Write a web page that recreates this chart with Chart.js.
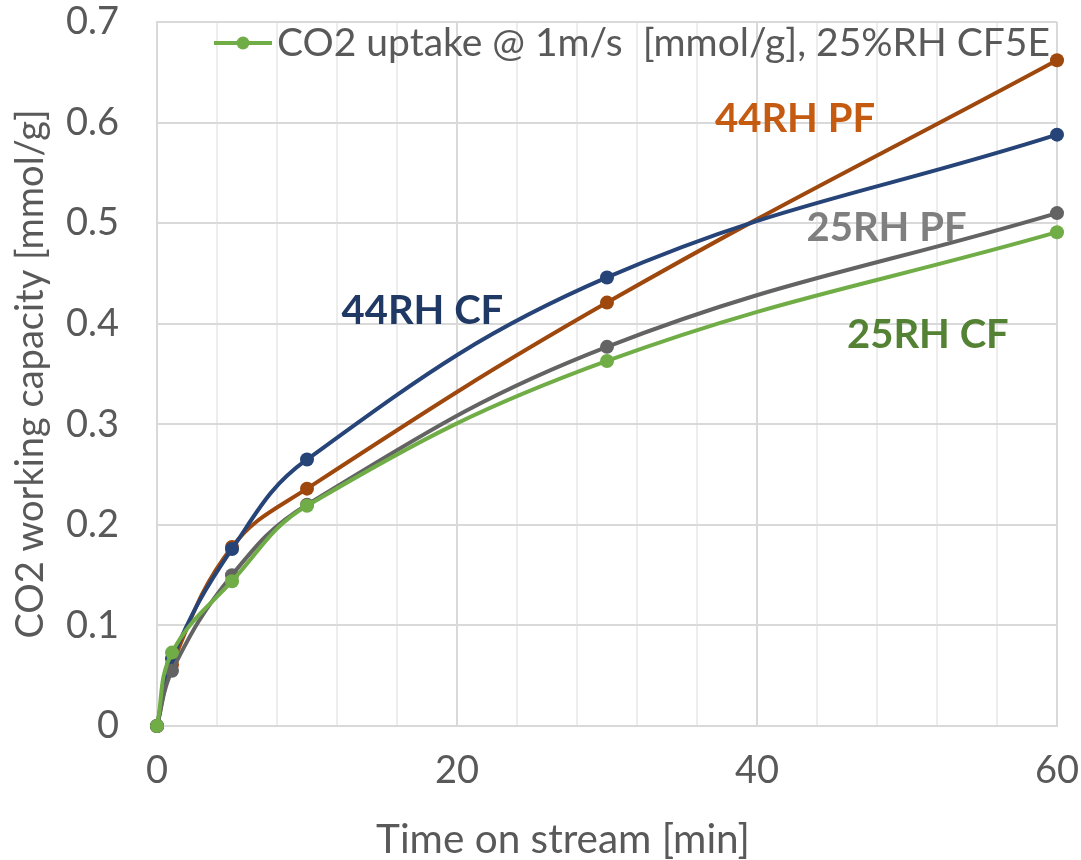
<!DOCTYPE html>
<html>
<head>
<meta charset="utf-8">
<script src="https://cdn.jsdelivr.net/npm/chart.js@4/dist/chart.umd.min.js"></script>
<style>
html,body{margin:0;padding:0;background:#fff;}
#wrap{width:1081px;height:860px;position:relative;}
</style>
</head>
<body>
<div id="wrap"><canvas id="c" width="1081" height="860"></canvas></div>
<script>
const times = [0, 1, 5, 10, 30, 60];
const cf44 = [0, 0.067, 0.176, 0.265, 0.446, 0.588];
const pf44 = [0, 0.061, 0.178, 0.236, 0.421, 0.662];
const pf25 = [0, 0.055, 0.150, 0.220, 0.377, 0.510];
const cf25 = [0, 0.073, 0.144, 0.219, 0.363, 0.491];
const seriesNames = ['CO2 uptake @ 1m/s  [mmol/g], 25%RH CF5E', '25RH PF', '44RH CF', '44RH PF'];
const xTicks = [0, 20, 40, 60];
const yTicks = [0, 0.1, 0.2, 0.3, 0.4, 0.5, 0.6, 0.7];
const labelTexts = ['44RH CF', '44RH PF', '25RH PF', '25RH CF'];
const labelX = [12.3, 37.2, 43.3, 46.0];
const labelY = [0.400, 0.591, 0.482, 0.376];
const xTitle = 'Time on stream [min]';
const yTitle = 'CO2 working capacity [mmol/g]';

const FONT = 'Lato, "Open Sans", sans-serif';
const lineColors = ['#70AD47', '#636363', '#264478', '#9E480E'];
const labelColors = ['#1F3864', '#C55A11', '#7F7F7F', '#548235'];

function pts(arr){ return times.map((t,i)=>({x:t,y:arr[i]})); }
function ds(label, arr, color){
  return {label, data: pts(arr), borderColor: color, backgroundColor: color,
    borderWidth: 4, pointRadius: 7, pointHoverRadius: 7, pointBorderWidth: 0,
    tension: 0.4, clip: false, fill: false};
}

const annot = {
  id: 'annot',
  afterDatasetsDraw(chart){
    const ctx = chart.ctx, xs = chart.scales.x, ys = chart.scales.y;
    ctx.save();
    ctx.font = 'bold 40px ' + FONT;
    ctx.textBaseline = 'alphabetic';
    ctx.textAlign = 'left';
    labelTexts.forEach((t,i)=>{
      ctx.fillStyle = labelColors[i];
      ctx.fillText(t, xs.getPixelForValue(labelX[i]), ys.getPixelForValue(labelY[i]));
    });
    // x-axis title
    ctx.fillStyle = '#595959';
    ctx.font = '40.5px ' + FONT;
    ctx.textAlign = 'center';
    ctx.fillText(xTitle, 563, 853);
    // legend (first series only)
    const ly = 43;
    ctx.strokeStyle = lineColors[0];
    ctx.lineWidth = 4;
    ctx.beginPath(); ctx.moveTo(214, ly); ctx.lineTo(272, ly); ctx.stroke();
    ctx.fillStyle = lineColors[0];
    ctx.beginPath(); ctx.arc(243, ly, 6.5, 0, Math.PI*2); ctx.fill();
    ctx.fillStyle = '#595959';
    ctx.font = '39px ' + FONT;
    ctx.textAlign = 'left';
    ctx.textBaseline = 'middle';
    ctx.fillText(seriesNames[0], 277, ly);
    ctx.restore();
  }
};

new Chart(document.getElementById('c'), {
  type: 'line',
  data: { datasets: [
    ds(seriesNames[0], cf25, lineColors[0]),
    ds(seriesNames[1], pf25, lineColors[1]),
    ds(seriesNames[2], cf44, lineColors[2]),
    ds(seriesNames[3], pf44, lineColors[3])
  ]},
  options: {
    responsive: false, animation: false,
    layout: { padding: { top: 22, right: 24, left: 0, bottom: 0 } },
    plugins: { legend: { display: false }, tooltip: { enabled: false } },
    scales: {
      x: {
        type: 'linear', min: 0, max: 60,
        afterFit(s){ s.height = 134; s.paddingLeft = 0; s.paddingRight = 0; },
        ticks: { stepSize: 4, autoSkip: false, maxRotation: 0, padding: 22, color: '#595959',
          font: { family: FONT, size: 38 },
          callback: v => xTicks.includes(v) ? String(v) : '' },
        grid: { drawTicks: false, lineWidth: 2,
          color: c => (c.tick && xTicks.includes(c.tick.value)) ? '#D9D9D9' : '#EDEDED' },
        border: { display: true, color: '#D9D9D9', width: 2 },
        title: { display: false }
      },
      y: {
        type: 'linear', min: 0, max: 0.7,
        afterFit(s){ s.width = 157; s.paddingTop = 0; s.paddingBottom = 0; },
        afterBuildTicks(s){ s.ticks = yTicks.map(v=>({value:v})); },
        ticks: { padding: 38, color: '#595959', font: { family: FONT, size: 38 },
          callback: v => String(Number(v.toFixed(1))) },
        grid: { drawTicks: false, lineWidth: 2, color: '#D9D9D9' },
        border: { display: true, color: '#D9D9D9', width: 2 },
        title: { display: true, text: yTitle, color: '#595959',
          font: { family: FONT, size: 38 }, padding: { top: 8, bottom: 10 } }
      }
    }
  },
  plugins: [annot]
});
</script>
</body>
</html>
